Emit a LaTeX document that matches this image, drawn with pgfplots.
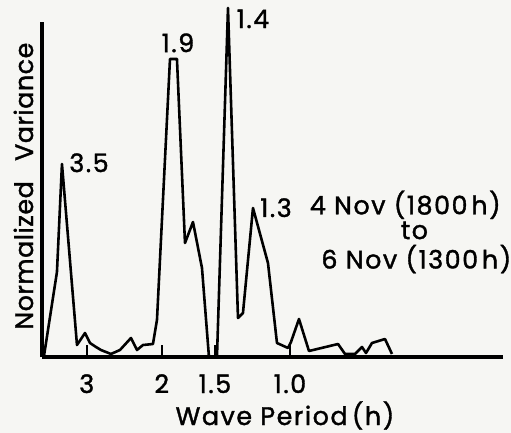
\documentclass[border=0pt]{standalone}
\usepackage{fontspec}
\setmainfont{Poppins}
\usepackage{pgfplots}
\pgfplotsset{compat=1.18}
\definecolor{bg}{RGB}{246,246,243}
\newcommand\lbl{\fontsize{25.5}{30}\selectfont\addfontfeature{FakeBold=1.4,LetterSpace=6}}
\newcommand\ylbl{\fontsize{25.5}{30}\selectfont\addfontfeature{FakeBold=1.4,LetterSpace=2}}
\begin{document}
\begin{tikzpicture}
\fill[bg] (0,0) rectangle (511bp,433bp);
\useasboundingbox (0,0) rectangle (511bp,433bp);
\begin{axis}[
  at={(42bp,76bp)}, anchor=south west,
  scale only axis, width=461bp, height=335bp,
  xmode=log, x dir=reverse,
  xmin=0.3162, xmax=3.821,
  ymin=0, ymax=1,
  clip=false,
  axis x line=bottom, axis y line=left,
  axis line style={-},
  x axis line style={line width=3.8pt},
  y axis line style={line width=3.2pt},
  ytick=\empty,
  xtick={3,2,1.5,1},
  xticklabels={3,2,1.5,1.0},
  xminorticks=false,
  tick align=inside,
  major tick length=12bp,
  xtick style={line width=2.4pt, black},
  xticklabel style={font=\lbl, anchor=base, inner sep=0pt, yshift=-36bp},
  xlabel={Wave Period\,(h)},
  xlabel style={font=\lbl, at={(axis description cs:0.527,0)}, anchor=base, inner sep=0pt, yshift=-68bp},
  ylabel={Normalized\hspace{0.8em}Variance},
  ylabel style={font=\ylbl, at={(axis description cs:-0.0195,0.51)}, anchor=base, inner sep=0pt, rotate=0},
]
\addplot[black, line width=2.6pt, line join=round] coordinates {
(3.780,0.003) (3.524,0.2537) (3.430,0.5761) (3.1623,0.0358) (3.0287,0.0716)
(2.948,0.0418) (2.8537,0.0299) (2.7777,0.0209) (2.6316,0.009) (2.5066,0.0209)
(2.3620,0.0567) (2.2865,0.0209) (2.2135,0.0358) (2.0971,0.0388) (2.0522,0.1104)
(1.9129,0.8896) (1.8421,0.8896) (1.7640,0.3403) (1.6894,0.4030) (1.6091,0.2657)
(1.5494,0) (1.4838,0) (1.3981,1.0418) (1.3245,0.1164) (1.2893,0.1313)
(1.2214,0.4448) (1.1263,0.2806) (1.0728,0.0418) (1.0109,0.0269) (0.9946,0.0448)
(0.9525,0.1134) (0.9024,0.0179) (0.7714,0.0388) (0.7428,0.009) (0.7037,0.009)
(0.6776,0.0299) (0.6631,0.0119) (0.6420,0.0418) (0.5984,0.0537) (0.5762,0.009)
};
\node[font=\lbl, anchor=base, inner sep=0pt] at (axis description cs:0.102,0.552) {3.5};
\node[font=\lbl, anchor=base, inner sep=0pt] at (axis description cs:0.295,0.910) {1.9};
\node[font=\lbl, anchor=base, inner sep=0pt] at (axis description cs:0.4577,0.982) {1.4};
\node[font=\lbl, anchor=base, inner sep=0pt] at (axis description cs:0.5076,0.418) {1.3};
\node[font=\lbl, anchor=base, inner sep=0pt] at (axis description cs:0.788,0.426) {4 Nov (1800\hspace{0.15em}h)};
\node[font=\lbl, anchor=base, inner sep=0pt] at (axis description cs:0.808,0.352) {to};
\node[font=\lbl, anchor=base, inner sep=0pt] at (axis description cs:0.812,0.264) {6 Nov (1300\hspace{0.15em}h)};
\end{axis}
\end{tikzpicture}
\end{document}
